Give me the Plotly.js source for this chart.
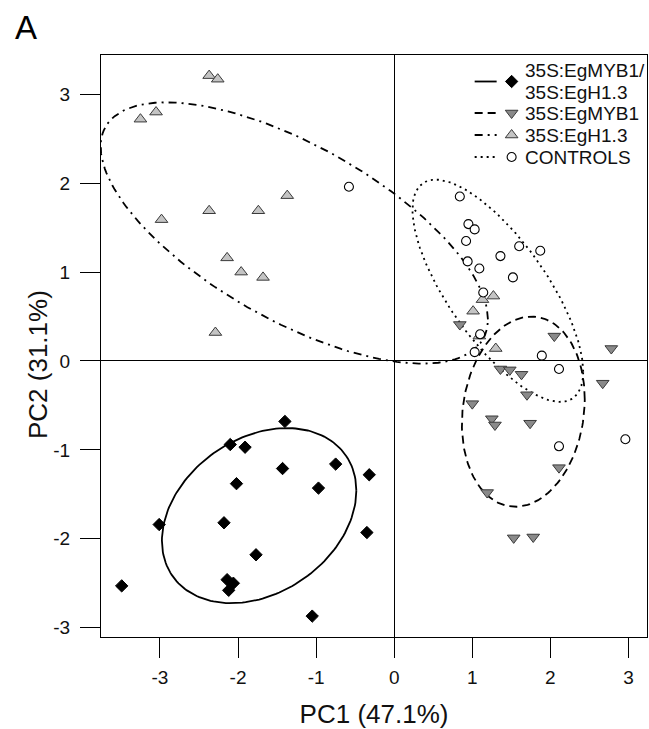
<!DOCTYPE html>
<html><head><meta charset="utf-8">
<script src="https://cdn.plot.ly/plotly-3.0.1.min.js"></script>
<style>html,body{margin:0;padding:0;background:#fff}#chart{width:649px;height:729px}</style>
</head><body><div id="chart"></div><script>
// ---- data ----
const groupNames = ['35S:EgMYB1/<br>35S:EgH1.3', '35S:EgMYB1', '35S:EgH1.3', 'CONTROLS'];

const dblX = [-1.40,-2.10,-1.91,-1.43,-0.75,-0.32,-2.02,-0.97,-3.01,-2.18,-0.35,-1.77,-3.49,-2.14,-2.06,-2.12,-1.05];
const dblY = [-0.68,-0.94,-0.97,-1.21,-1.16,-1.28,-1.38,-1.43,-1.84,-1.82,-1.93,-2.18,-2.53,-2.46,-2.50,-2.58,-2.87];

const mybX = [0.84,2.05,2.78,1.36,1.48,1.63,2.67,1.70,1.00,1.25,1.29,1.74,2.11,1.19,1.53,1.78];
const mybY = [0.41,0.28,0.14,-0.09,-0.10,-0.15,-0.25,-0.38,-0.48,-0.65,-0.72,-0.70,-1.20,-1.48,-1.99,-1.98];

const h13X = [-2.37,-2.26,-3.25,-3.05,-2.98,-2.37,-1.74,-1.37,-2.14,-1.96,-1.68,-2.29,1.27,1.13,1.01,1.09,1.30];
const h13Y = [3.21,3.17,2.72,2.80,1.59,1.69,1.69,1.86,1.16,1.00,0.94,0.32,0.73,0.69,0.56,0.28,0.14];

const ctrlX = [-0.58,0.84,0.95,1.03,0.92,1.36,1.60,1.87,0.94,1.09,1.52,1.14,1.10,1.03,1.89,2.11,2.96,2.11];
const ctrlY = [1.96,1.85,1.54,1.48,1.35,1.18,1.29,1.24,1.12,1.04,0.94,0.77,0.30,0.10,0.06,-0.09,-0.88,-0.96];

// ellipses (group order as groupNames): centre, x-variance, y-variance, covariance
const ellCx  = [-1.73, 1.653, -1.28, 1.327];
const ellCy  = [-1.74, -0.57, 1.44, 0.79];
const ellVx  = [1.55, 0.619, 6.15, 1.195];
const ellVy  = [0.97, 1.145, 2.16, 1.5625];
const ellCov = [0.35, 0.11, -2.41, -0.996];

const xTicks = [-3,-2,-1,0,1,2,3];
const yTicks = [-3,-2,-1,0,1,2,3];

// ---- styles ----
const FONT = 'Arial, "Liberation Sans", sans-serif';
const dashes = ['solid', '8px,5px', '8px,5px,2px,5px', '2px,4px'];
const markers = [
  {symbol:'diamond', size:9.5, color:'#000000', line:{color:'#000000', width:1}},
  {symbol:'triangle-down', size:11, color:'#8a8a8a', line:{color:'#3a3a3a', width:1}},
  {symbol:'triangle-up', size:11, color:'#c4c4c4', line:{color:'#3a3a3a', width:1}},
  {symbol:'circle', size:9, color:'#ffffff', line:{color:'#000000', width:1.1}}
];
const pts = [[dblX,dblY],[mybX,mybY],[h13X,h13Y],[ctrlX,ctrlY]];

function ellipse(i){
  const n = 180, xs = [], ys = [];
  const l11 = Math.sqrt(ellVx[i]);
  const l21 = ellCov[i] / l11;
  const l22 = Math.sqrt(ellVy[i] - l21*l21);
  for (let k = 0; k <= n; k++){
    const t = 2*Math.PI*k/n, c = Math.cos(t), s = Math.sin(t);
    xs.push(ellCx[i] + l11*c);
    ys.push(ellCy[i] + l21*c + l22*s);
  }
  return [xs, ys];
}

const traces = [];
for (let i = 0; i < 4; i++){
  const e = ellipse(i);
  traces.push({x:e[0], y:e[1], mode:'lines', type:'scatter', showlegend:false, hoverinfo:'skip',
    line:{color:'#000', width:1.8, dash:dashes[i]}});
}
for (let i = 0; i < 4; i++){
  traces.push({x:pts[i][0], y:pts[i][1], mode:'markers', type:'scatter', name:groupNames[i],
    showlegend:false, marker:markers[i], cliponaxis:false});
}

// legend drawn in pixel space on an overlay axis pair
const legRowY = [81.5, 113, 135, 157];
const legLineX = [475, 497], legMarkX = 512, legTextX = 524, legLineGap = 21.5;
const annotations = [];
for (let i = 0; i < 4; i++){
  traces.push({x:legLineX, y:[legRowY[i], legRowY[i]], xaxis:'x2', yaxis:'y2', mode:'lines',
    showlegend:false, hoverinfo:'skip', line:{color:'#000', width:1.8, dash:dashes[i]}});
  traces.push({x:[legMarkX], y:[legRowY[i]], xaxis:'x2', yaxis:'y2', mode:'markers',
    showlegend:false, hoverinfo:'skip', marker:markers[i]});
  const lines = groupNames[i].split('<br>');
  lines.forEach((ln, j) => {
    const yy = legRowY[i] + (j - (lines.length - 1)/2) * legLineGap;
    annotations.push({xref:'x2', yref:'y2', x:legTextX, y:yy, xanchor:'left', yanchor:'middle',
      text:ln, showarrow:false, align:'left', borderpad:0, font:{family:FONT, size:19, color:'#111'}});
  });
}
// panel letter (paper coords; plot area spans x 101..647.5 px, y 55..637 px)
annotations.push({xref:'paper', yref:'paper', x:-0.161, y:1.0464, xanchor:'left', yanchor:'middle',
  text:'A', showarrow:false, font:{family:FONT, size:33, color:'#000'}});
// y-axis title (placed like the reference, slightly below plot centre)
annotations.push({xref:'paper', yref:'paper', x:-0.1153, y:0.4674, xanchor:'center', yanchor:'middle', textangle:-90,
  text:'PC2 (31.1%)', showarrow:false, font:{family:FONT, size:26, color:'#111'}});

const axisCommon = {
  showgrid:false, zeroline:true, zerolinecolor:'#000', zerolinewidth:1,
  showline:true, mirror:true, linecolor:'#000', linewidth:1,
  ticks:'outside', ticklen:20, tickwidth:1, tickcolor:'#000',
  tickfont:{family:FONT, size:19, color:'#111'}, fixedrange:true
};

const layout = {
  width:649, height:729,
  margin:{l:101, r:1.5, t:55, b:92, pad:0},
  paper_bgcolor:'#fff', plot_bgcolor:'#fff',
  font:{family:FONT, color:'#000'},
  showlegend:false,
  xaxis:Object.assign({}, axisCommon, {range:[-3.755, 3.237], tickvals:xTicks, ticktext:xTicks.map(String),
    ticklabelstandoff:3,
    title:{text:'PC1 (47.1%)', font:{family:FONT, size:26, color:'#111'}, standoff:20}}),
  yaxis:Object.assign({}, axisCommon, {range:[-3.105, 3.442], tickvals:yTicks, ticktext:yTicks.map(String),
    ticklabelstandoff:6}),
  xaxis2:{overlaying:'x', anchor:'y2', range:[101, 647.5], visible:false, fixedrange:true},
  yaxis2:{overlaying:'y', anchor:'x2', range:[637, 55], visible:false, fixedrange:true},
  annotations:annotations
};

Plotly.newPlot('chart', traces, layout, {displayModeBar:false, staticPlot:true});
</script></body></html>
